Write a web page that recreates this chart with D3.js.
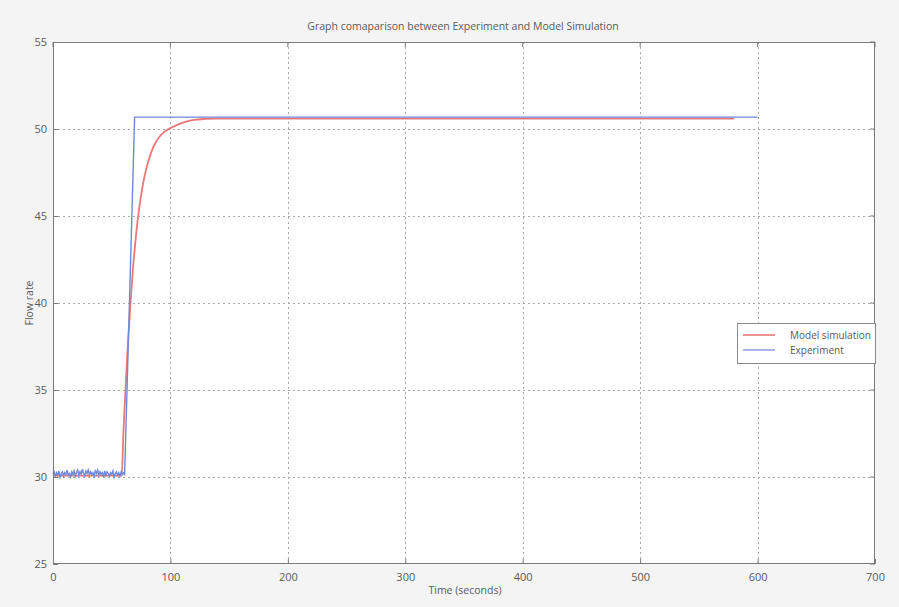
<!DOCTYPE html>
<html>
<head>
<meta charset="utf-8">
<script src="https://cdn.jsdelivr.net/npm/d3@7"></script>
<style>
  html, body { margin: 0; padding: 0; background: #f4f4f4; }
  svg { display: block; }
  text { font-family: "Open Sans", "DejaVu Sans", sans-serif; fill: #5a5a5a; }
</style>
</head>
<body>
<svg id="chart" width="899" height="607"></svg>
<script>
// Axis ticks
const xTicks = [0, 100, 200, 300, 400, 500, 600, 700];
const yTicks = [25, 30, 35, 40, 45, 50, 55];

// Model simulation: time (s) and flow rate
const modelTime = [0, 58.5, 60, 62, 64, 66, 68, 70, 72, 75, 78, 81, 85, 90, 95, 100, 110, 120, 130, 140, 580];
const modelFlow = [30.08, 30.08, 32.6, 35.4, 37.9, 40.0, 41.9, 43.4, 44.7, 46.2, 47.3, 48.1, 48.9, 49.5, 49.85, 50.05, 50.35, 50.52, 50.58, 50.6, 50.6];

// Experiment: measured flow rate (noisy baseline, then step)
const expTime = [
  0, 1, 2, 3, 4, 5, 6, 7, 8, 9, 10, 11, 12, 13, 14, 15, 16, 17, 18, 19,
  20, 21, 22, 23, 24, 25, 26, 27, 28, 29, 30, 31, 32, 33, 34, 35, 36, 37, 38, 39,
  40, 41, 42, 43, 44, 45, 46, 47, 48, 49, 50, 51, 52, 53, 54, 55, 56, 57, 58, 59,
  60, 61, 69.5, 600
];
const expFlow = [
  30.15, 30.3, 30.05, 30.25, 30.1, 30.35, 30.0, 30.2, 30.3, 30.05, 30.25, 30.15, 30.4, 30.1, 30.2, 30.0, 30.3, 30.15, 30.35, 30.05,
  30.25, 30.4, 30.1, 30.3, 30.15, 30.45, 30.2, 30.05, 30.35, 30.2, 30.4, 30.1, 30.3, 30.15, 30.25, 30.05, 30.35, 30.2, 30.4, 30.1,
  30.3, 30.15, 30.25, 30.0, 30.35, 30.1, 30.3, 30.2, 30.05, 30.25, 30.15, 30.35, 30.0, 30.2, 30.3, 30.1, 30.25, 30.05, 30.3, 30.15,
  30.25, 30.1, 50.68, 50.68
];

const seriesNames = ["Model simulation", "Experiment"];
const seriesColors = ["#e8787a", "#6f88da"];

const svg = d3.select("#chart");
const plot = { left: 53, right: 875, top: 42, bottom: 564 };

const x = d3.scaleLinear().domain([0, 700]).range([plot.left, plot.right]);
const y = d3.scaleLinear().domain([25, 55]).range([plot.bottom, plot.top]);

// Plot background
svg.append("rect")
  .attr("x", plot.left).attr("y", plot.top)
  .attr("width", plot.right - plot.left).attr("height", plot.bottom - plot.top)
  .attr("fill", "#ffffff");

// Dotted grid
const grid = svg.append("g").attr("stroke", "#a8a8a8").attr("stroke-width", 1).attr("stroke-dasharray", "2,3");
grid.selectAll("line.v").data(xTicks.slice(1, -1)).join("line")
  .attr("x1", d => Math.round(x(d)) + 0.5).attr("x2", d => Math.round(x(d)) + 0.5)
  .attr("y1", plot.top).attr("y2", plot.bottom);
grid.selectAll("line.h").data(yTicks.slice(1, -1)).join("line")
  .attr("y1", d => Math.round(y(d)) + 0.5).attr("y2", d => Math.round(y(d)) + 0.5)
  .attr("x1", plot.left).attr("x2", plot.right);

// Lines
const modelPts = modelTime.map((t, i) => [t, modelFlow[i]]);
const expPts = expTime.map((t, i) => [t, expFlow[i]]);

svg.append("path").datum(modelPts)
  .attr("d", d3.line().x(d => x(d[0])).y(d => y(d[1])).curve(d3.curveMonotoneX))
  .attr("fill", "none").attr("stroke", seriesColors[0]).attr("stroke-width", 1.8);

svg.append("path").datum(expPts)
  .attr("d", d3.line().x(d => x(d[0])).y(d => y(d[1])))
  .attr("fill", "none").attr("stroke", seriesColors[1]).attr("stroke-width", 1.4);

// Axes (inward ticks, with box)
const xAxis = d3.axisBottom(x).tickValues(xTicks).tickSize(-5).tickPadding(9);
const yAxis = d3.axisLeft(y).tickValues(yTicks).tickSize(-5).tickPadding(6);

const gx = svg.append("g").attr("transform", `translate(0,${plot.bottom})`).call(xAxis);
const gy = svg.append("g").attr("transform", `translate(${plot.left},0)`).call(yAxis);
[gx, gy].forEach(g => {
  g.select(".domain").remove();
  g.selectAll(".tick line").attr("stroke", "#7a7a7a");
  g.selectAll(".tick text").attr("font-size", 11).style("fill", "#5a5a5a")
    .attr("font-family", "'Open Sans', 'DejaVu Sans', sans-serif");
});
// Top/right inward ticks
svg.append("g").selectAll("line").data(xTicks).join("line")
  .attr("x1", d => x(d)).attr("x2", d => x(d))
  .attr("y1", plot.top).attr("y2", plot.top + 5).attr("stroke", "#7a7a7a");
svg.append("g").selectAll("line").data(yTicks).join("line")
  .attr("y1", d => y(d)).attr("y2", d => y(d))
  .attr("x1", plot.right).attr("x2", plot.right - 5).attr("stroke", "#7a7a7a");

svg.append("rect")
  .attr("x", plot.left + 0.5).attr("y", plot.top + 0.5)
  .attr("width", plot.right - plot.left - 1).attr("height", plot.bottom - plot.top - 1)
  .attr("fill", "none").attr("stroke", "#7a7a7a").attr("stroke-width", 1);

// Title and axis labels
svg.append("text").attr("x", 463).attr("y", 30).attr("text-anchor", "middle")
  .attr("font-size", 10.5).text("Graph comaparison between Experiment and Model Simulation");
svg.append("text").attr("x", 465).attr("y", 594).attr("text-anchor", "middle")
  .attr("font-size", 10.5).text("Time (seconds)");
svg.append("text").attr("transform", "translate(33,303) rotate(-90)").attr("text-anchor", "middle")
  .attr("font-size", 10.5).text("Flow rate");

// Legend
const legend = svg.append("g").attr("transform", "translate(737,323)");
legend.append("rect").attr("x", 0.5).attr("y", 0.5).attr("width", 138).attr("height", 40)
  .attr("fill", "#ffffff").attr("stroke", "#8a8a8a");
seriesNames.forEach((name, i) => {
  const ly = 12 + i * 15;
  legend.append("line").attr("x1", 6).attr("x2", 38).attr("y1", ly).attr("y2", ly)
    .attr("stroke", seriesColors[i]).attr("stroke-width", i === 0 ? 1.6 : 1.2);
  legend.append("text").attr("x", 53).attr("y", ly + 4).attr("font-size", 10).text(name);
});
</script>
</body>
</html>
